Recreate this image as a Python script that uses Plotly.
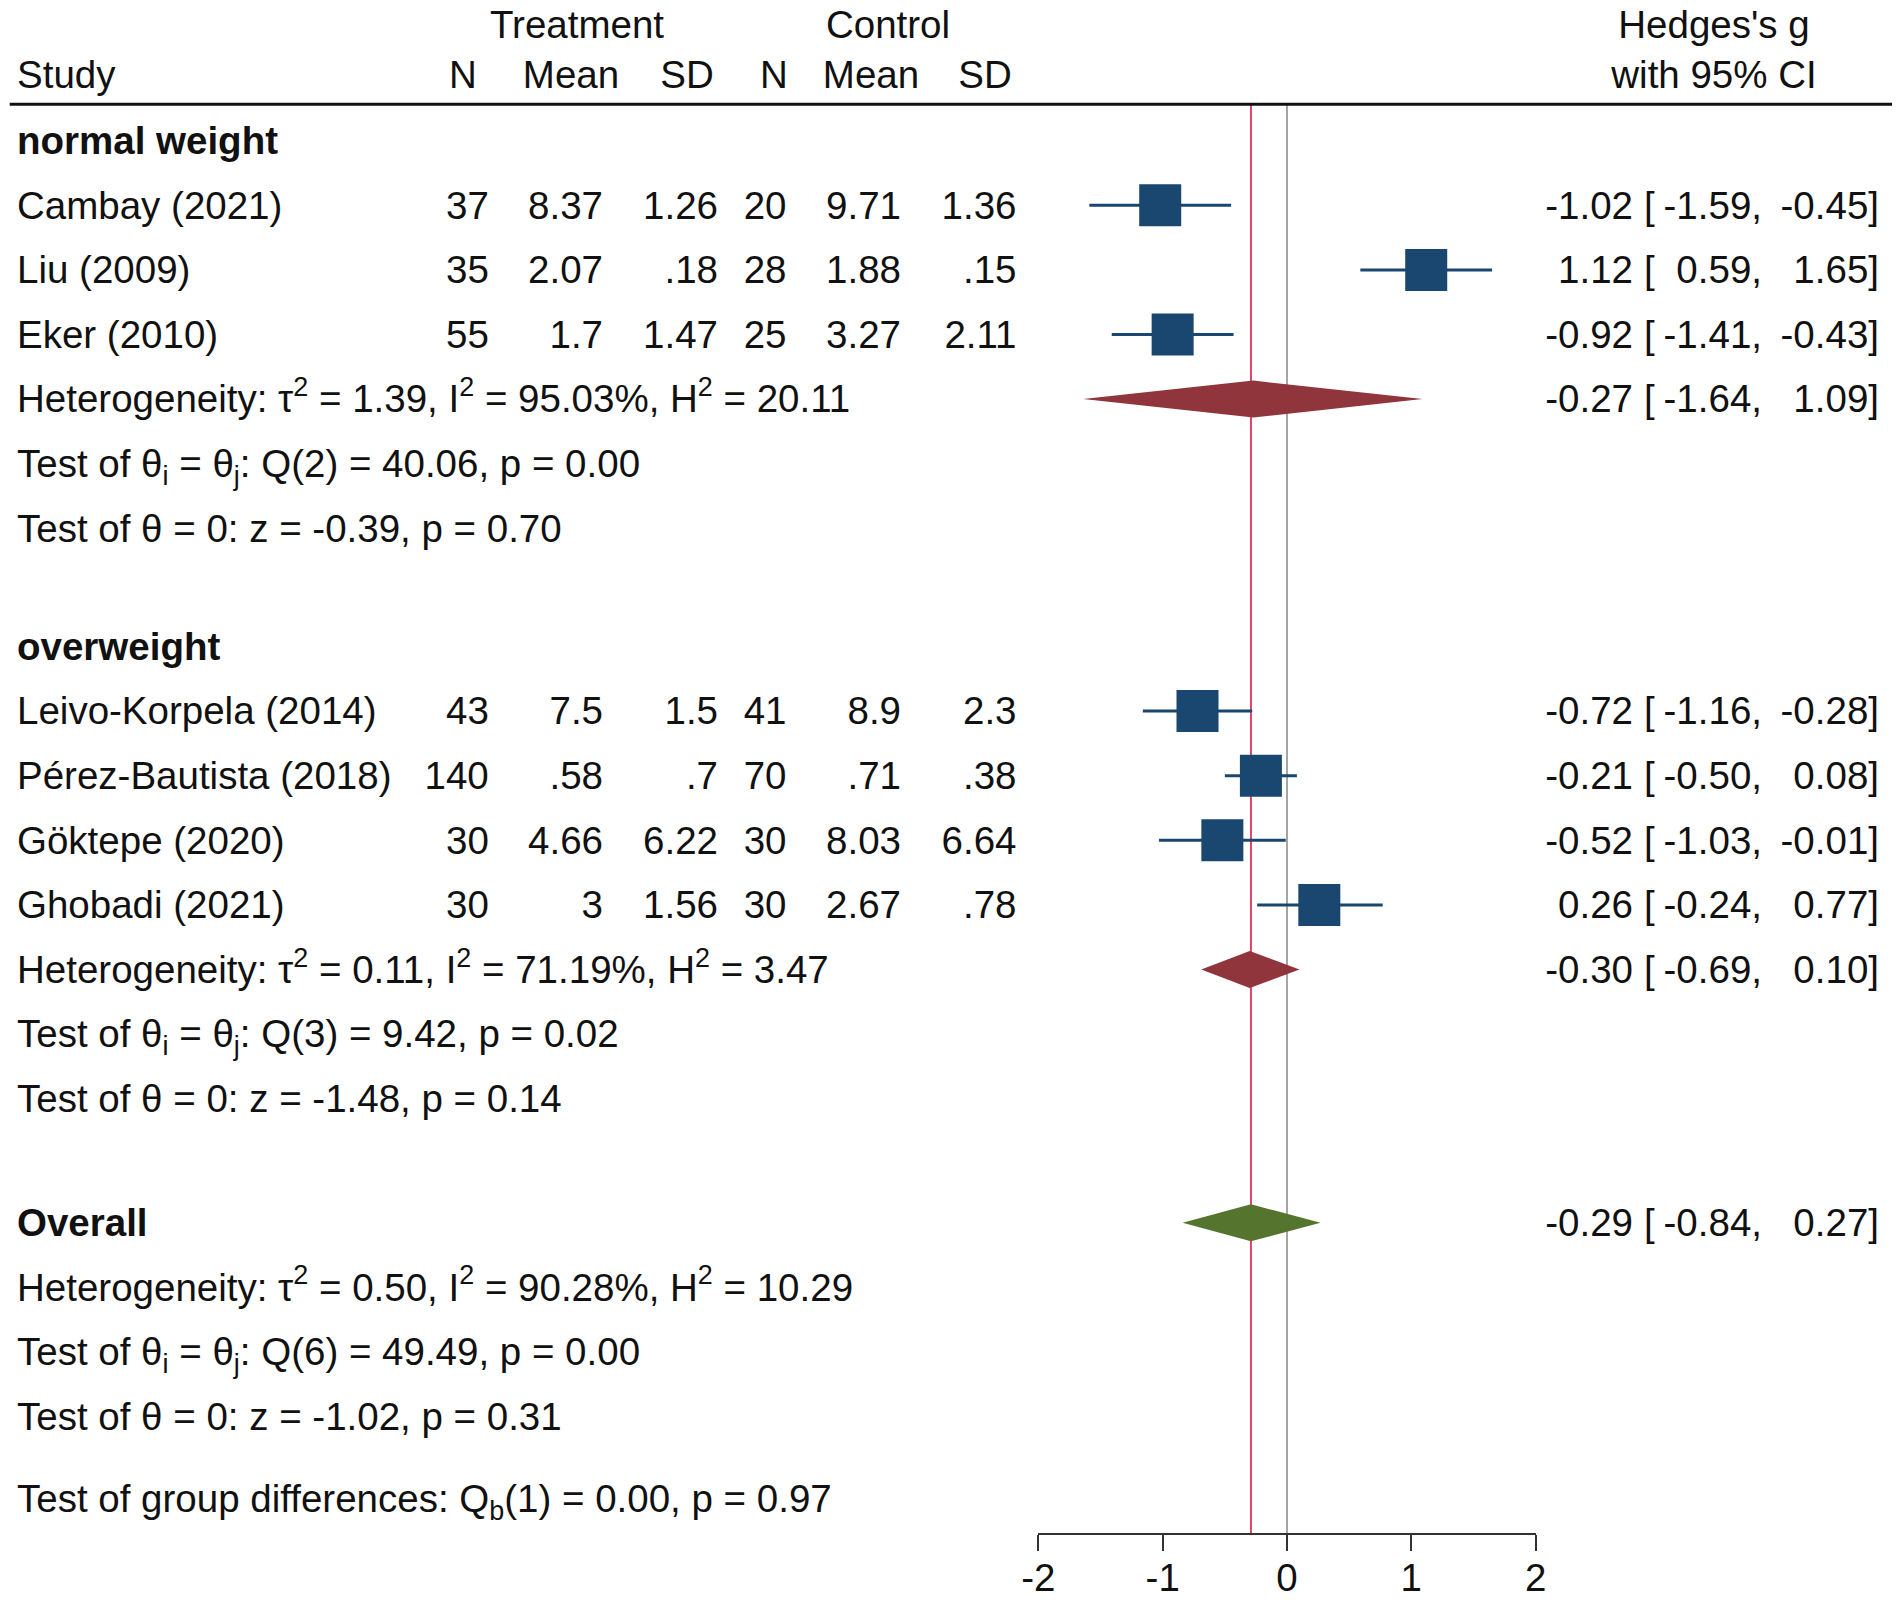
import plotly.graph_objects as go

# ---------------- data ----------------
studies = ["Cambay (2021)", "Liu (2009)", "Eker (2010)",
           "Leivo-Korpela (2014)", "Pérez-Bautista (2018)", "Göktepe (2020)", "Ghobadi (2021)"]
study_group = [0, 0, 0, 1, 1, 1, 1]
t_n = [37, 35, 55, 43, 140, 30, 30]
t_mean = [8.37, 2.07, 1.7, 7.5, 0.58, 4.66, 3]
t_sd = [1.26, 0.18, 1.47, 1.5, 0.7, 6.22, 1.56]
c_n = [20, 28, 25, 41, 70, 30, 30]
c_mean = [9.71, 1.88, 3.27, 8.9, 0.71, 8.03, 2.67]
c_sd = [1.36, 0.15, 2.11, 2.3, 0.38, 6.64, 0.78]
g = [-1.02, 1.12, -0.92, -0.72, -0.21, -0.52, 0.26]
g_lo = [-1.59, 0.59, -1.41, -1.16, -0.50, -1.03, -0.24]
g_hi = [-0.45, 1.65, -0.43, -0.28, 0.08, -0.01, 0.77]

groups = ["normal weight", "overweight"]
grp_g = [-0.27, -0.30]
grp_lo = [-1.64, -0.69]
grp_hi = [1.09, 0.10]
grp_tau2 = ["1.39", "0.11"]
grp_I2 = ["95.03", "71.19"]
grp_H2 = ["20.11", "3.47"]
grp_df = [2, 3]
grp_Q = ["40.06", "9.42"]
grp_Qp = ["0.00", "0.02"]
grp_z = ["-0.39", "-1.48"]
grp_zp = ["0.70", "0.14"]

overall_g, overall_lo, overall_hi = -0.29, -0.84, 0.27
overall_tau2, overall_I2, overall_H2 = "0.50", "90.28", "10.29"
overall_df, overall_Q, overall_Qp = 6, "49.49", "0.00"
overall_z, overall_zp = "-1.02", "0.31"
qb_df, qb, qb_p = 1, "0.00", "0.97"

axis_ticks = [-2, -1, 0, 1, 2]
axis_ticktext = ["-2", "-1", "0", "1", "2"]

# ---------------- layout constants ----------------
W, H = 1902, 1600
FONT = "Liberation Sans, Arial, sans-serif"
FS = 38.5
BLACK = "#111111"
NAVY = "#1a476f"
MAROON = "#90353b"
GREEN = "#55752f"
REDLINE = "#dc4468"
GRAYLINE = "#a5a5a5"

ZERO_PX, UNIT_PX = 1287.0, 124.3
AX_Y = 1534.0
TOP_RULE = 104.3
PITCH = 64.6
DIAMOND_H = 37
SQUARE = 42
LEFT = 17
TEXT_DY = 3.6


def fmt(v):
    s = f"{v:g}"
    if s.startswith("0."):
        s = s[1:]
    return s


# row positions (layout)
rows = []
y = 140.7
for gi, gname in enumerate(groups):
    rows.append(("ghead", gi, y)); y += PITCH
    for si in [i for i, s in enumerate(study_group) if s == gi]:
        rows.append(("study", si, y)); y += PITCH
    rows.append(("ghet", gi, y)); y += PITCH
    rows.append(("gq", gi, y)); y += PITCH
    rows.append(("gz", gi, y))
    y += PITCH + (53.6 if gi == 0 else 59.5)
rows.append(("ohead", None, y)); y += PITCH
rows.append(("ohet", None, y)); y += PITCH
rows.append(("oq", None, y)); y += PITCH
rows.append(("oz", None, y)); y += 82.5
rows.append(("qb", None, y))

texts = {"left": ([], [], []), "right": ([], [], []), "center": ([], [], [])}


def text(x, yv, s, anchor="left"):
    tx, ty, tt = texts[anchor]
    tx.append(x); ty.append(yv + TEXT_DY); tt.append(s)


# header
text(577, 24.3, "Treatment", "center")
text(888, 24.3, "Control", "center")
text(1714, 24.3, "Hedges's g", "center")
text(LEFT, 75.2, "Study", "left")
for lbl, cx in [("N", 463), ("Mean", 571), ("SD", 687), ("N", 774), ("Mean", 871), ("SD", 985)]:
    text(cx, 75.2, lbl, "center")
text(1714, 75.2, "with 95% CI", "center")

COLS = [488.8, 603, 718, 786.5, 901, 1016.5]
EST_R, BR_L, LO_R, HI_R = 1633, 1644, 1762, 1879


def ci_text(yv, est, lo, hi):
    text(EST_R, yv, f"{est:.2f}", "right")
    text(BR_L, yv, "[", "left")
    text(LO_R, yv, f"{lo:.2f},", "right")
    text(HI_R, yv, f"{hi:.2f}]", "right")


fig = go.Figure()
sq_x, sq_y = [], []
ci_x, ci_y = [], []
for kind, p, yv in rows:
    if kind == "ghead":
        text(LEFT, yv, f"<b>{groups[p]}</b>")
    elif kind == "study":
        text(LEFT, yv, studies[p])
        vals = [str(t_n[p]), fmt(t_mean[p]), fmt(t_sd[p]), str(c_n[p]), fmt(c_mean[p]), fmt(c_sd[p])]
        for v, cx in zip(vals, COLS):
            text(cx, yv, v, "right")
        ci_text(yv, g[p], g_lo[p], g_hi[p])
        sq_x.append(g[p]); sq_y.append(yv)
        ci_x += [g_lo[p], g_hi[p], None]; ci_y += [yv, yv, None]
    elif kind == "ghet":
        text(LEFT, yv, f"Heterogeneity: τ<sup>2</sup> = {grp_tau2[p]}, I<sup>2</sup> = {grp_I2[p]}%, H<sup>2</sup> = {grp_H2[p]}")
        ci_text(yv, grp_g[p], grp_lo[p], grp_hi[p])
        fig.add_trace(go.Scatter(
            x=[grp_lo[p], grp_g[p], grp_hi[p], grp_g[p], grp_lo[p]],
            y=[yv, yv - DIAMOND_H / 2, yv, yv + DIAMOND_H / 2, yv],
            mode="lines", fill="toself", fillcolor=MAROON, line=dict(width=0, color=MAROON),
            hoverinfo="skip", showlegend=False))
    elif kind == "gq":
        text(LEFT, yv, f"Test of θ<sub>i</sub> = θ<sub>j</sub>: Q({grp_df[p]}) = {grp_Q[p]}, p = {grp_Qp[p]}")
    elif kind == "gz":
        text(LEFT, yv, f"Test of θ = 0: z = {grp_z[p]}, p = {grp_zp[p]}")
    elif kind == "ohead":
        text(LEFT, yv, "<b>Overall</b>")
        ci_text(yv, overall_g, overall_lo, overall_hi)
        fig.add_trace(go.Scatter(
            x=[overall_lo, overall_g, overall_hi, overall_g, overall_lo],
            y=[yv, yv - DIAMOND_H / 2, yv, yv + DIAMOND_H / 2, yv],
            mode="lines", fill="toself", fillcolor=GREEN, line=dict(width=0, color=GREEN),
            hoverinfo="skip", showlegend=False))
    elif kind == "ohet":
        text(LEFT, yv, f"Heterogeneity: τ<sup>2</sup> = {overall_tau2}, I<sup>2</sup> = {overall_I2}%, H<sup>2</sup> = {overall_H2}")
    elif kind == "oq":
        text(LEFT, yv, f"Test of θ<sub>i</sub> = θ<sub>j</sub>: Q({overall_df}) = {overall_Q}, p = {overall_Qp}")
    elif kind == "oz":
        text(LEFT, yv, f"Test of θ = 0: z = {overall_z}, p = {overall_zp}")
    elif kind == "qb":
        text(LEFT, yv, f"Test of group differences: Q<sub>b</sub>({qb_df}) = {qb}, p = {qb_p}")

fig.add_trace(go.Scatter(x=ci_x, y=ci_y, mode="lines", line=dict(color=NAVY, width=3),
                         hoverinfo="skip", showlegend=False))
fig.add_trace(go.Scatter(x=sq_x, y=sq_y, mode="markers",
                         marker=dict(symbol="square", size=SQUARE, color=NAVY, line=dict(width=0)),
                         hoverinfo="skip", showlegend=False))

# text layers on a full-width pixel axis
pos = {"left": "middle right", "right": "middle left", "center": "middle center"}
for anchor, (tx, ty, tt) in texts.items():
    fig.add_trace(go.Scatter(x=tx, y=ty, text=tt, mode="text", textposition=pos[anchor],
                             textfont=dict(family=FONT, size=FS, color=BLACK),
                             xaxis="x2", yaxis="y", cliponaxis=False,
                             hoverinfo="skip", showlegend=False))

shapes = [
    dict(type="line", xref="paper", yref="y", x0=9.7 / W, x1=1892 / W, y0=TOP_RULE, y1=TOP_RULE,
         line=dict(color=BLACK, width=3)),
    dict(type="line", xref="x", yref="y", x0=0, x1=0, y0=TOP_RULE, y1=AX_Y,
         line=dict(color=GRAYLINE, width=2), layer="below"),
    dict(type="line", xref="x", yref="y", x0=overall_g, x1=overall_g, y0=TOP_RULE, y1=AX_Y,
         line=dict(color=REDLINE, width=2), layer="below"),
]

x0_px = ZERO_PX + axis_ticks[0] * UNIT_PX
x1_px = ZERO_PX + axis_ticks[-1] * UNIT_PX

fig.update_layout(
    width=W, height=H, margin=dict(l=0, r=0, t=0, b=0, autoexpand=False),
    paper_bgcolor="white", plot_bgcolor="rgba(0,0,0,0)",
    showlegend=False, shapes=shapes,
    font=dict(family=FONT, size=FS, color=BLACK),
    xaxis=dict(domain=[x0_px / W, x1_px / W], range=[axis_ticks[0], axis_ticks[-1]],
               anchor="free", position=1 - AX_Y / H, automargin=False,
               showline=True, linecolor="#333333", linewidth=2, mirror=False,
               ticks="outside", ticklen=16, tickwidth=2, tickcolor="#333333",
               tickvals=axis_ticks, ticktext=axis_ticktext, ticklabelstandoff=-6,
               tickfont=dict(family=FONT, size=FS, color=BLACK),
               showgrid=False, zeroline=False, fixedrange=True),
    xaxis2=dict(domain=[0, 1], range=[0, W], anchor="y", visible=False, automargin=False,
                showgrid=False, zeroline=False, fixedrange=True),
    yaxis=dict(domain=[0, 1], range=[H, 0], visible=False, showgrid=False, zeroline=False,
               automargin=False, fixedrange=True),
)

fig.write_html("out.html", config={"displayModeBar": False},
               post_script="document.body.style.margin='0px';")
